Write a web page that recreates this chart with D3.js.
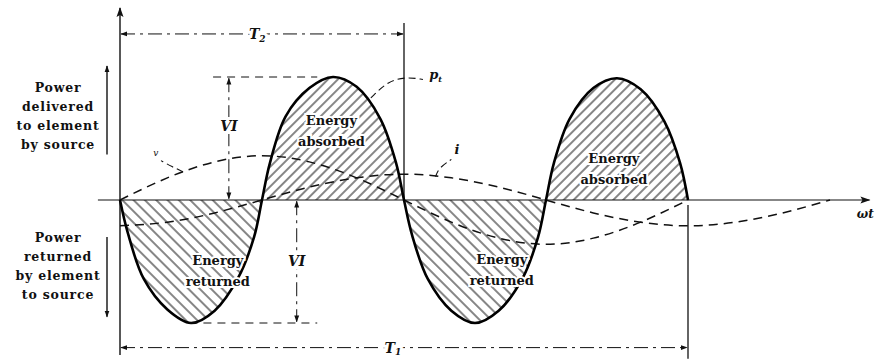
<!DOCTYPE html>
<html>
<head>
<meta charset="utf-8">
<script src="https://cdn.jsdelivr.net/npm/d3@7"></script>
<style>
  body { margin: 0; background: #fff; }
  svg text { font-family: "DejaVu Serif", "Liberation Serif", serif; fill: #111; }
</style>
</head>
<body>
<div id="fig"></div>
<script>
// instantaneous power p (in units of VI) against wt in degrees
var pAngle = [0, 5, 15, 30, 45, 60, 75, 85, 90,
              95, 105, 120, 135, 150, 165, 175, 180,
              185, 195, 210, 225, 240, 255, 265, 270,
              275, 285, 300, 315, 330, 345, 355, 360];
var pValue = [0, -0.27, -0.64, -0.89, -1, -0.9, -0.63, -0.3, 0,
              0.3, 0.68, 0.91, 1, 0.92, 0.66, 0.3, 0,
              -0.28, -0.64, -0.9, -1, -0.9, -0.64, -0.3, 0,
              0.3, 0.66, 0.91, 0.99, 0.9, 0.64, 0.3, 0];

// voltage v (dashed)
var vAngle = [0, 30, 60, 90, 120, 150, 180, 210, 240, 270, 300, 330, 360];
var vValue = [0, 0.18, 0.31, 0.36, 0.31, 0.18, 0, -0.18, -0.31, -0.36, -0.31, -0.18, 0];

// current i (dashed)
var iAngle = [0, 30, 60, 90, 120, 150, 180, 210, 240, 270, 300, 330, 360, 390, 420, 450];
var iValue = [-0.21, -0.18, -0.105, 0, 0.105, 0.18, 0.21, 0.18, 0.105, 0, -0.105, -0.18, -0.21, -0.18, -0.105, 0];

// lobe labels: [angle of centre, top text, bottom text, level]
var lobeLabels = [
  [62, "Energy", "returned", -0.54],
  [134, "Energy", "absorbed", 0.6],
  [242, "Energy", "returned", -0.53],
  [313, "Energy", "absorbed", 0.29]
];

var leftLabelsUp = ["Power", "delivered", "to element", "by source"];
var leftLabelsDown = ["Power", "returned", "by element", "to source"];

var width = 877, height = 360;

var x = d3.scaleLinear().domain([0, 360]).range([120, 688]);
var y = d3.scaleLinear().domain([-1, 1]).range([323, 77]);

var svg = d3.select("#fig").append("svg")
    .attr("width", width)
    .attr("height", height);

var defs = svg.append("defs");

defs.append("marker")
    .attr("id", "arr")
    .attr("viewBox", "0 0 10 10")
    .attr("refX", 9).attr("refY", 5)
    .attr("markerWidth", 7).attr("markerHeight", 7)
    .attr("markerUnits", "userSpaceOnUse")
    .attr("orient", "auto-start-reverse")
  .append("path")
    .attr("d", "M0,1.5 L10,5 L0,8.5 Z")
    .attr("fill", "#111");

defs.append("marker")
    .attr("id", "bigarr")
    .attr("viewBox", "0 0 10 10")
    .attr("refX", 9).attr("refY", 5)
    .attr("markerWidth", 12).attr("markerHeight", 10)
    .attr("markerUnits", "userSpaceOnUse")
    .attr("orient", "auto-start-reverse")
  .append("path")
    .attr("d", "M0,1.5 L10,5 L0,8.5 L2,5 Z")
    .attr("fill", "#111");

// hatch patterns
function hatch(id, angle, sp) {
  var p = defs.append("pattern")
      .attr("id", id)
      .attr("patternUnits", "userSpaceOnUse")
      .attr("width", sp).attr("height", 10)
      .attr("patternTransform", "rotate(" + angle + ")");
  p.append("line")
      .attr("x1", 1).attr("x2", 1)
      .attr("y1", 0).attr("y2", 10)
      .attr("stroke", "#222")
      .attr("stroke-width", 1.1);
}
hatch("hatchUp", 45, 7);
hatch("hatchDown", -45, 8);

defs.append("clipPath").attr("id", "clipUp")
  .append("rect")
    .attr("x", 0).attr("y", 0)
    .attr("width", width).attr("height", y(0));
defs.append("clipPath").attr("id", "clipDown")
  .append("rect")
    .attr("x", 0).attr("y", y(0))
    .attr("width", width).attr("height", height - y(0));

var pData = pAngle.map(function(a, k) { return [a, pValue[k]]; });
var vData = vAngle.map(function(a, k) { return [a, vValue[k]]; });
var iData = iAngle.map(function(a, k) { return [a, iValue[k]]; });

var area = d3.area()
    .x(function(d) { return x(d[0]); })
    .y0(y(0))
    .y1(function(d) { return y(d[1]); })
    .curve(d3.curveCatmullRom.alpha(0.5));

var line = d3.line()
    .x(function(d) { return x(d[0]); })
    .y(function(d) { return y(d[1]); })
    .curve(d3.curveCatmullRom.alpha(0.5));

var smooth = d3.line()
    .x(function(d) { return x(d[0]); })
    .y(function(d) { return y(d[1]); })
    .curve(d3.curveNatural);

// hatched areas
svg.append("path").datum(pData)
    .attr("d", area)
    .attr("fill", "url(#hatchUp)")
    .attr("clip-path", "url(#clipUp)");
svg.append("path").datum(pData)
    .attr("d", area)
    .attr("fill", "url(#hatchDown)")
    .attr("clip-path", "url(#clipDown)");

// x axis (wt)
svg.append("line")
    .attr("x1", x(-14)).attr("x2", x(475))
    .attr("y1", y(0)).attr("y2", y(0))
    .attr("stroke", "#111").attr("stroke-width", 1.2)
    .attr("marker-end", "url(#bigarr)");
svg.append("text")
    .attr("x", x(467)).attr("y", y(-0.15))
    .attr("font-size", 12).attr("font-style", "italic").attr("font-weight", "bold")
    .text("ωt");

// y axis
svg.append("line")
    .attr("x1", x(0)).attr("x2", x(0))
    .attr("y1", y(-1.26)).attr("y2", y(1.56))
    .attr("stroke", "#111").attr("stroke-width", 1.4)
    .attr("marker-end", "url(#bigarr)");

// end-of-period verticals
svg.append("line")
    .attr("x1", x(180)).attr("x2", x(180))
    .attr("y1", y(1.44)).attr("y2", y(0))
    .attr("stroke", "#111").attr("stroke-width", 1.3);
svg.append("line")
    .attr("x1", x(360)).attr("x2", x(360))
    .attr("y1", y(-0.04)).attr("y2", y(-1.29))
    .attr("stroke", "#111").attr("stroke-width", 1.3);

// dashed v and i
svg.append("path").datum(vData)
    .attr("d", smooth)
    .attr("fill", "none").attr("stroke", "#111")
    .attr("stroke-width", 1.5).attr("stroke-dasharray", "9,6");
svg.append("path").datum(iData)
    .attr("d", smooth)
    .attr("fill", "none").attr("stroke", "#111")
    .attr("stroke-width", 1.5).attr("stroke-dasharray", "9,6");

// power curve
svg.append("path").datum(pData)
    .attr("d", line)
    .attr("fill", "none").attr("stroke", "#000")
    .attr("stroke-width", 2.6);

// dimension helper
function dim(x1, y1, x2, y2) {
  svg.append("line")
      .attr("x1", x1).attr("y1", y1).attr("x2", x2).attr("y2", y2)
      .attr("stroke", "#111").attr("stroke-width", 1)
      .attr("stroke-dasharray", "14,5,3,5")
      .attr("marker-start", "url(#arr)")
      .attr("marker-end", "url(#arr)");
}
function guide(x1, x2, yy) {
  svg.append("line")
      .attr("x1", x1).attr("x2", x2).attr("y1", yy).attr("y2", yy)
      .attr("stroke", "#111").attr("stroke-width", 1)
      .attr("stroke-dasharray", "8,6");
}
function dimLabel(xx, yy, main, sub) {
  var t = svg.append("text")
      .attr("x", xx).attr("y", yy)
      .attr("text-anchor", "middle").attr("dy", "0.35em")
      .attr("font-size", 14).attr("font-style", "italic").attr("font-weight", "bold")
      .attr("stroke", "#fff").attr("stroke-width", 6).attr("paint-order", "stroke");
  t.append("tspan").text(main);
  if (sub) t.append("tspan").attr("font-size", 9).attr("dy", "0.3em").text(sub);
}

// T2 across one power cycle, T1 across the full v/i cycle
dim(x(0) + 1, y(1.35), x(180) - 1, y(1.35));
dimLabel(x(87), y(1.35), "T", "2");
dim(x(0) + 1, y(-1.2), x(360) - 1, y(-1.2));
dimLabel(x(173), y(-1.2), "T", "1");

// VI markers
guide(x(59), x(125), y(1));
dim(x(69), y(0.99), x(69), y(0.01));
dimLabel(x(69), y(0.6), "VI");
guide(x(44), x(125), y(-1));
dim(x(112), y(-0.01), x(112), y(-0.99));
dimLabel(x(112), y(-0.5), "VI");

// lobe text
lobeLabels.forEach(function(d) {
  var g = svg.append("text")
      .attr("x", x(d[0])).attr("y", y(d[3]))
      .attr("text-anchor", "middle")
      .attr("font-size", 13).attr("font-weight", "bold")
      .attr("stroke", "#fff").attr("stroke-width", 4).attr("paint-order", "stroke");
  g.append("tspan").attr("x", x(d[0])).attr("dy", "-0.1em").text(d[1]);
  g.append("tspan").attr("x", x(d[0])).attr("dy", "1.6em").text(d[2]);
});

// curve labels with leaders
function leader(pts) {
  svg.append("path")
      .attr("d", d3.line().curve(d3.curveBasis)(pts.map(function(q) { return [x(q[0]), y(q[1])]; })))
      .attr("fill", "none").attr("stroke", "#111").attr("stroke-width", 1.1)
      .attr("stroke-dasharray", "7,4");
}
leader([[159, 0.83], [170, 0.97], [182, 1.0], [192, 0.98]]);
var pl = svg.append("text")
    .attr("x", x(196)).attr("y", y(0.98))
    .attr("font-size", 13).attr("font-style", "italic").attr("font-weight", "bold");
pl.append("tspan").text("p");
pl.append("tspan").attr("font-size", 8).attr("dy", "0.35em").text("t");

leader([[200, 0.19], [202, 0.26], [210, 0.33]]);
svg.append("text")
    .attr("x", x(212)).attr("y", y(0.37))
    .attr("font-size", 13).attr("font-style", "italic").attr("font-weight", "bold")
    .text("i");

leader([[40, 0.23], [33, 0.27], [26, 0.32]]);
svg.append("text")
    .attr("x", x(21)).attr("y", y(0.36))
    .attr("font-size", 9).attr("font-style", "italic")
    .attr("fill", "#777")
    .text("v");

// left side descriptions
function sideLabel(lines, y0) {
  lines.forEach(function(s, k) {
    svg.append("text")
        .attr("x", 58).attr("y", y0 + k * 19)
        .attr("text-anchor", "middle")
        .attr("font-size", 12.5)
        .attr("letter-spacing", 0.8)
        .attr("font-weight", "bold")
        .text(s);
  });
}
sideLabel(leftLabelsUp, 92);
sideLabel(leftLabelsDown, 242);

svg.append("line")
    .attr("x1", 107).attr("x2", 107)
    .attr("y1", y(0.37)).attr("y2", y(1.09))
    .attr("stroke", "#111").attr("stroke-width", 1.4)
    .attr("marker-end", "url(#arr)");
svg.append("line")
    .attr("x1", 107).attr("x2", 107)
    .attr("y1", y(-0.3)).attr("y2", y(-0.95))
    .attr("stroke", "#111").attr("stroke-width", 1.4)
    .attr("marker-end", "url(#arr)");
</script>
</body>
</html>
